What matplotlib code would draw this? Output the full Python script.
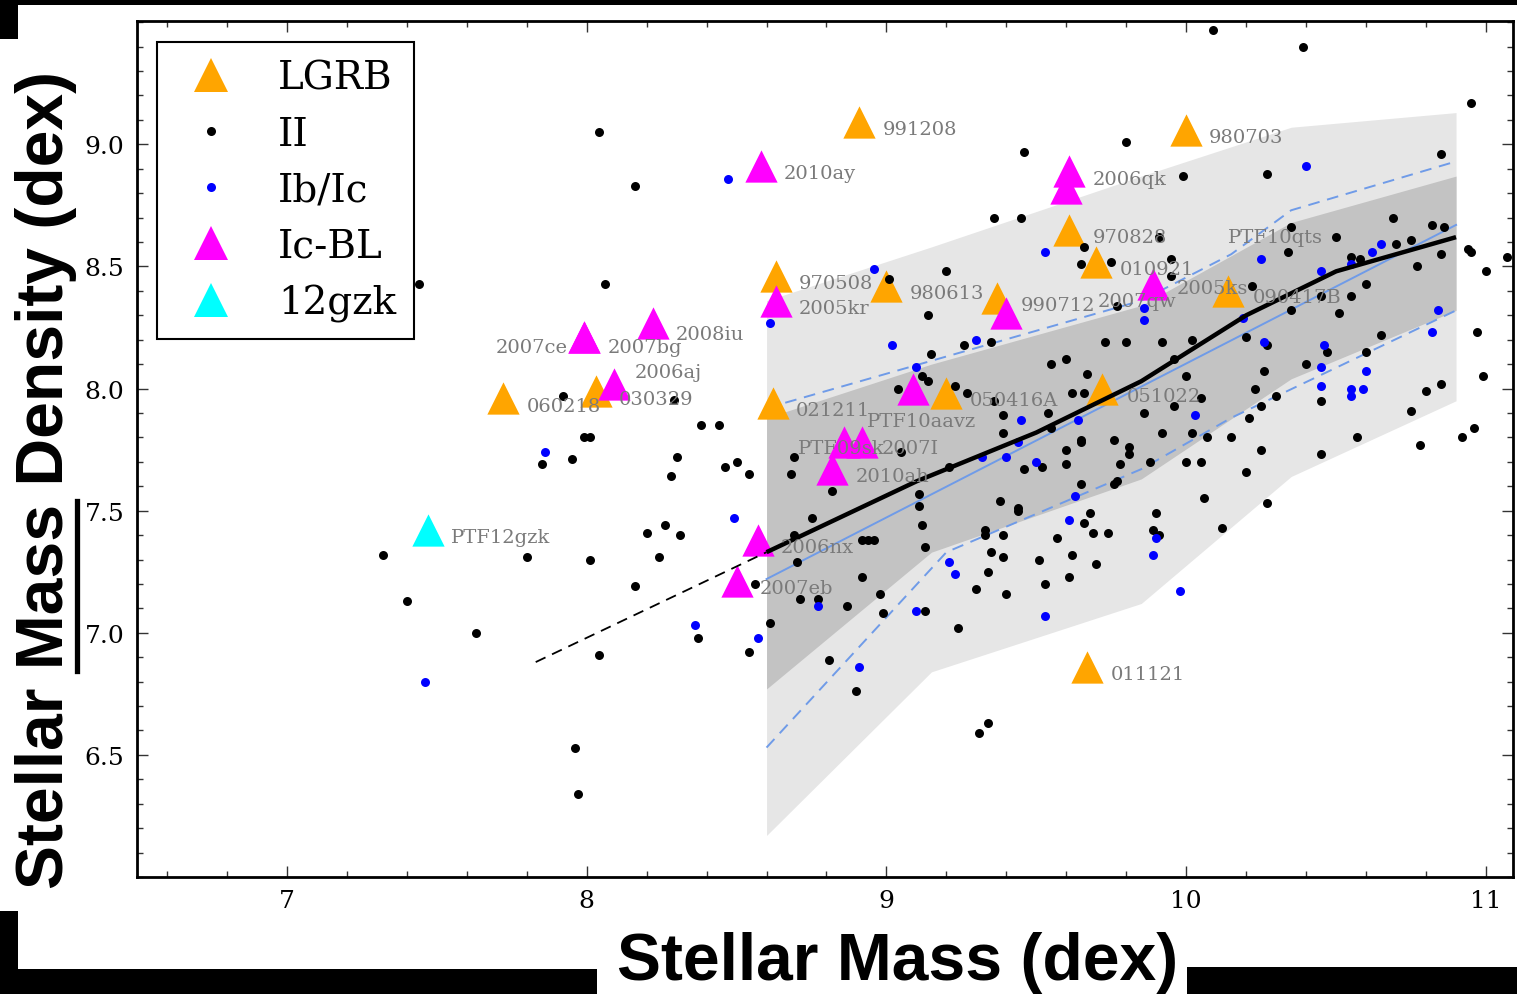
import matplotlib
matplotlib.use("Agg")
import matplotlib.pyplot as plt
from matplotlib.lines import Line2D
from matplotlib.patches import Rectangle
from matplotlib.ticker import MultipleLocator

W, H = 1517, 995

# ---- data -----------------------------------------------------------------
ii_mass = [8.04, 8.16, 7.44, 8.06, 7.92, 8.29, 8.38, 8.44, 7.99, 8.01, 7.85, 7.95, 8.30, 8.28, 8.46, 8.50, 8.54,
           8.26, 8.20, 8.31, 8.24, 7.32, 7.80, 8.01, 7.40, 8.16, 7.63, 8.04, 8.37, 8.54, 8.56, 7.96, 7.97,
           9.46, 9.80, 9.36, 9.45, 9.66, 9.65, 9.75, 9.01, 9.20, 9.14, 9.26, 9.35, 9.15, 9.12, 9.14, 9.04, 9.23,
           9.27, 9.36, 9.73, 9.80, 9.77, 9.55, 9.60, 9.67, 9.62, 9.66, 9.86, 9.39, 9.54, 9.39, 9.55, 9.65, 9.65,
           9.76, 9.60, 9.81, 9.81, 9.52, 9.60, 9.78, 9.46, 8.69, 8.68, 9.05, 9.21,
           8.82, 9.11, 9.11, 9.12, 9.13, 8.75, 8.69, 8.92, 8.94, 8.96, 8.70, 8.92, 8.71, 8.77, 8.87, 8.98, 8.99,
           8.61, 8.81, 8.90, 9.13, 9.24, 9.38, 9.44, 9.44, 9.33, 9.33, 9.39, 9.35, 9.39, 9.34, 9.30, 9.40, 9.65,
           9.76, 9.77, 9.68, 9.66, 9.57, 9.69, 9.74, 9.62, 9.51, 9.70, 9.53, 9.61, 9.31, 9.34,
           10.09, 10.39, 10.95, 10.85, 9.99, 10.27, 10.69, 10.35, 10.50, 10.82, 10.86, 10.75, 10.70, 10.55, 10.58,
           10.85, 10.94, 10.95, 11.07, 11.00, 10.77, 10.34, 10.60, 10.55, 10.51, 10.35, 10.45, 10.22, 9.95, 9.95,
           9.91, 10.20, 10.27, 10.02, 9.92, 10.47, 10.60, 10.65, 10.97, 10.40, 10.26, 10.00, 9.96, 10.23, 10.30,
           10.80, 10.85, 10.99, 10.45, 10.05, 9.96, 10.75, 10.25, 10.21, 9.92, 10.02, 10.96, 10.92, 10.57, 10.07,
           10.15, 10.25, 10.45, 10.78, 9.88, 10.00, 10.05, 10.20, 10.06, 10.27, 9.90, 9.89, 9.91, 10.12]
ii_dens = [9.05, 8.83, 8.43, 8.43, 7.97, 7.955, 7.85, 7.85, 7.80, 7.80, 7.69, 7.71, 7.72, 7.64, 7.68, 7.70, 7.65,
           7.44, 7.41, 7.40, 7.31, 7.32, 7.31, 7.30, 7.13, 7.19, 7.00, 6.91, 6.98, 6.92, 7.20, 6.53, 6.34,
           8.97, 9.01, 8.70, 8.70, 8.58, 8.51, 8.52, 8.45, 8.48, 8.30, 8.18, 8.19, 8.14, 8.05, 8.03, 8.00, 8.01,
           7.98, 7.95, 8.19, 8.19, 8.34, 8.10, 8.12, 8.06, 7.98, 7.98, 7.90, 7.89, 7.90, 7.82, 7.84, 7.79, 7.78,
           7.79, 7.75, 7.76, 7.73, 7.68, 7.69, 7.69, 7.67, 7.72, 7.65, 7.74, 7.68,
           7.58, 7.57, 7.52, 7.44, 7.35, 7.47, 7.40, 7.38, 7.38, 7.38, 7.29, 7.23, 7.14, 7.14, 7.11, 7.16, 7.08,
           7.04, 6.89, 6.76, 7.09, 7.02, 7.54, 7.51, 7.50, 7.42, 7.40, 7.40, 7.33, 7.31, 7.25, 7.18, 7.16, 7.61,
           7.61, 7.62, 7.49, 7.45, 7.39, 7.41, 7.41, 7.32, 7.30, 7.28, 7.20, 7.23, 6.59, 6.63,
           9.47, 9.40, 9.17, 8.96, 8.87, 8.88, 8.70, 8.66, 8.62, 8.67, 8.66, 8.61, 8.59, 8.54, 8.53,
           8.55, 8.57, 8.56, 8.54, 8.48, 8.50, 8.56, 8.43, 8.38, 8.31, 8.32, 8.38, 8.42, 8.53, 8.46,
           8.62, 8.21, 8.18, 8.20, 8.19, 8.15, 8.15, 8.22, 8.23, 8.10, 8.07, 8.05, 8.12, 8.00, 7.97,
           7.99, 8.02, 8.05, 7.95, 7.96, 7.93, 7.91, 7.93, 7.88, 7.82, 7.82, 7.84, 7.80, 7.80, 7.80,
           7.80, 7.75, 7.73, 7.77, 7.70, 7.70, 7.70, 7.66, 7.55, 7.53, 7.49, 7.42, 7.40, 7.43]

ibc_mass = [8.47, 7.86, 8.49, 7.46, 8.36, 8.57, 9.53, 8.96, 8.61, 9.02, 9.30, 9.10, 9.86, 9.86, 9.45, 9.64,
            9.44, 9.32, 9.40, 9.50, 8.77, 8.91, 9.10, 9.21, 9.23, 9.63, 9.61, 9.53, 10.40, 10.65, 10.62, 10.55,
            10.25, 10.45, 10.19, 10.26, 10.46, 10.84, 10.82, 10.45, 10.60, 10.45, 10.55, 10.55, 10.59, 10.03,
            9.90, 9.89, 9.98]
ibc_dens = [8.86, 7.74, 7.47, 6.80, 7.03, 6.98, 8.56, 8.49, 8.27, 8.18, 8.20, 8.09, 8.33, 8.28, 7.87, 7.87,
            7.78, 7.72, 7.72, 7.70, 7.11, 6.86, 7.09, 7.29, 7.24, 7.56, 7.46, 7.07, 8.91, 8.59, 8.56, 8.51,
            8.53, 8.48, 8.29, 8.19, 8.18, 8.32, 8.23, 8.09, 8.07, 8.01, 8.00, 7.97, 8.00, 7.89,
            7.39, 7.32, 7.17]

lgrb_names = ["060218", "030329", "991208", "970828", "010921", "970508", "980613", "990712",
              "050416A", "021211", "011121", "980703", "051022", "090417B"]
lgrb_mass = [7.72, 8.03, 8.91, 9.61, 9.70, 8.63, 9.00, 9.37, 9.20, 8.62, 9.67, 10.00, 9.72, 10.14]
lgrb_dens = [7.96, 7.99, 9.09, 8.65, 8.52, 8.46, 8.42, 8.37, 7.98, 7.94, 6.86, 9.06, 8.00, 8.40]

icbl_names = ["2007ce", "2007bg", "2008iu", "2006aj", "2010ay", "2006qk", "", "2005kr", "2007qw",
              "2005ks", "PTF10aavz", "PTF09sk", "2007I", "2010ah", "2006nx", "2007eb"]
icbl_mass = [7.99, 7.99, 8.22, 8.09, 8.58, 9.61, 9.60, 8.63, 9.40, 9.89, 9.09, 8.86, 8.92, 8.82, 8.57, 8.50]
icbl_dens = [8.21, 8.21, 8.27, 8.02, 8.91, 8.89, 8.82, 8.36, 8.31, 8.43, 8.00, 7.78, 7.78, 7.67, 7.38, 7.21]

gzk_name = "PTF12gzk"
gzk_mass = [7.47]
gzk_dens = [7.42]

# running percentiles of the type II sample
band_mass = [8.6, 9.15, 9.85, 10.35, 10.9]
outer_lo = [6.17, 6.84, 7.12, 7.64, 7.95]
outer_hi = [8.36, 8.58, 8.87, 9.07, 9.13]
inner_lo = [6.77, 7.33, 7.63, 8.04, 8.32]
inner_hi = [7.88, 8.10, 8.34, 8.68, 8.87]

median_mass = [8.6, 9.1, 9.5, 9.85, 10.2, 10.5, 10.9]
median_dens = [7.33, 7.62, 7.82, 8.03, 8.30, 8.48, 8.62]
extrap_mass = [7.83, 8.6]
extrap_dens = [6.88, 7.33]

# linear fit and its scatter
fit_mass = [8.6, 10.9]
fit_dens = [7.22, 8.67]
fit_hi_mass = [8.6, 9.85, 10.15, 10.35, 10.9]
fit_hi_dens = [7.92, 8.36, 8.55, 8.73, 8.93]
fit_lo_mass = [8.6, 9.2, 9.85, 10.15, 10.9]
fit_lo_dens = [6.53, 7.33, 7.67, 7.88, 8.32]

x_ticks = [7, 8, 9, 10, 11]
y_ticks = [6.5, 7.0, 7.5, 8.0, 8.5, 9.0]

# label offsets in pixels (dx right, dy down) and alignment
DEFAULT_OFF = (23, 7)
label_off = {
    "060218": (24, 8), "030329": (23, 8), "051022": (24, 7), "090417B": (25, 6),
    "2007ce": (-16, 10), "2007bg": (24, 10), "2008iu": (23, 11), "2006aj": (21, -12),
    "2006qk": (23, 8), "2005ks": (23, 4), "PTF10aavz": (-46, 32), "PTF09sk": (-47, 6),
    "2007I": (19, 6), "2007qw": (91, -12),
}
label_ha = {"2007ce": "right"}

# ---- figure ---------------------------------------------------------------
fig = plt.figure(figsize=(W / 100, H / 100), dpi=100)
fig.patch.set_facecolor("white")
ax = fig.add_axes([137 / W, 1 - 878 / H, (1513 - 137) / W, (878 - 22) / H])

serif = "DejaVu Serif"
ax.set_xlim(6.5, 11.09)
ax.set_ylim(6.0, 9.505)

ax.fill_between(band_mass, outer_lo, outer_hi, color="#e6e6e6", lw=0, zorder=1)
ax.fill_between(band_mass, inner_lo, inner_hi, color="#c3c3c3", lw=0, zorder=1.1)

blue_line = "#6f9be8"
ax.plot(fit_mass, fit_dens, color=blue_line, lw=1.4, zorder=2)
ax.plot(fit_hi_mass, fit_hi_dens, color=blue_line, lw=1.4, ls=(0, (6, 4)), zorder=2)
ax.plot(fit_lo_mass, fit_lo_dens, color=blue_line, lw=1.4, ls=(0, (6, 4)), zorder=2)

tri_size = 540
ax.scatter(lgrb_mass, lgrb_dens, marker="^", s=tri_size, color="#ffa500", lw=0, zorder=3)
ax.scatter(icbl_mass, icbl_dens, marker="^", s=tri_size, color="#ff00ff", lw=0, zorder=3)
ax.scatter(gzk_mass, gzk_dens, marker="^", s=tri_size, color="#00ffff", lw=0, zorder=3)

ax.scatter(ii_mass, ii_dens, s=42, color="black", lw=0, zorder=4)
ax.scatter(ibc_mass, ibc_dens, s=42, color="#0000ff", lw=0, zorder=4)

ax.plot(median_mass, median_dens, color="black", lw=3.2, zorder=5, solid_capstyle="butt")
ax.plot(extrap_mass, extrap_dens, color="black", lw=1.3, ls=(0, (6, 4)), zorder=5)


def put_labels(names, xs, ys):
    for name, x, y in zip(names, xs, ys):
        if not name:
            continue
        dx, dy = label_off.get(name, DEFAULT_OFF)
        ax.annotate(name, (x, y), xytext=(dx * 0.72, -dy * 0.72), textcoords="offset points",
                    ha=label_ha.get(name, "left"), va="center", fontsize=14,
                    family=serif, color="#7a7a7a", zorder=6)


put_labels(lgrb_names, lgrb_mass, lgrb_dens)
put_labels(icbl_names, icbl_mass, icbl_dens)
put_labels([gzk_name], gzk_mass, gzk_dens)
ax.text(10.14, 8.62, "PTF10qts", ha="left", va="center", fontsize=14, family=serif,
        color="#7a7a7a", zorder=6)

# ticks
ax.set_xticks(x_ticks)
ax.set_yticks(y_ticks)
ax.set_yticklabels([f"{v:.1f}" for v in y_ticks])
ax.xaxis.set_minor_locator(MultipleLocator(0.2))
ax.yaxis.set_minor_locator(MultipleLocator(0.1))
ax.tick_params(which="both", direction="in", top=True, right=True, width=1.0, color="#333333")
ax.tick_params(which="major", length=8, labelsize=18, pad=9)
ax.tick_params(which="minor", length=4)
for lab in ax.get_xticklabels() + ax.get_yticklabels():
    lab.set_family(serif)
for sp in ax.spines.values():
    sp.set_linewidth(2.0)

# legend
handles = [
    Line2D([], [], ls="none", marker="^", ms=24, color="#ffa500", mew=0),
    Line2D([], [], ls="none", marker="o", ms=6.5, color="black", mew=0),
    Line2D([], [], ls="none", marker="o", ms=6.5, color="#0000ff", mew=0),
    Line2D([], [], ls="none", marker="^", ms=24, color="#ff00ff", mew=0),
    Line2D([], [], ls="none", marker="^", ms=24, color="#00ffff", mew=0),
]
leg = ax.legend(handles, ["LGRB", "II", "Ib/Ic", "Ic-BL", "12gzk"], loc="upper left",
                bbox_to_anchor=((157 - 137) / (1513 - 137), 1 - (43 - 22) / (878 - 22)),
                borderaxespad=0, prop={"family": serif, "size": 28}, numpoints=1,
                fancybox=False, framealpha=1, edgecolor="black", labelspacing=0.49,
                handlelength=1.9, handletextpad=0.76, borderpad=0.45)
leg.get_frame().set_linewidth(1.5)
leg.set_zorder(10)

# axis titles
fig.text(46 / W, 1 - 480 / H, "Stellar Mass Density (dex)", rotation=90, ha="center", va="center",
         family="Liberation Sans", fontweight="bold", fontsize=47.5)
fig.add_artist(Line2D([77 / W, 77 / W], [1 - 502 / H, 1 - 672 / H], color="black", lw=3.8,
                      transform=fig.transFigure))
fig.text(898 / W, 1 - 963 / H, "Stellar Mass (dex)", ha="center", va="center",
         family="Liberation Sans", fontweight="bold", fontsize=47.5)

# black frame pieces around the panel
for x0, y0, x1, y1 in [(0, 0, W, 6), (0, 0, 18, 40), (0, 912, 18, H), (0, 970, 597, H),
                       (1187, 968, W, H)]:
    fig.add_artist(Rectangle((x0 / W, 1 - y1 / H), (x1 - x0) / W, (y1 - y0) / H,
                             transform=fig.transFigure, color="black", lw=0))

fig.savefig("out.png", dpi=100)
